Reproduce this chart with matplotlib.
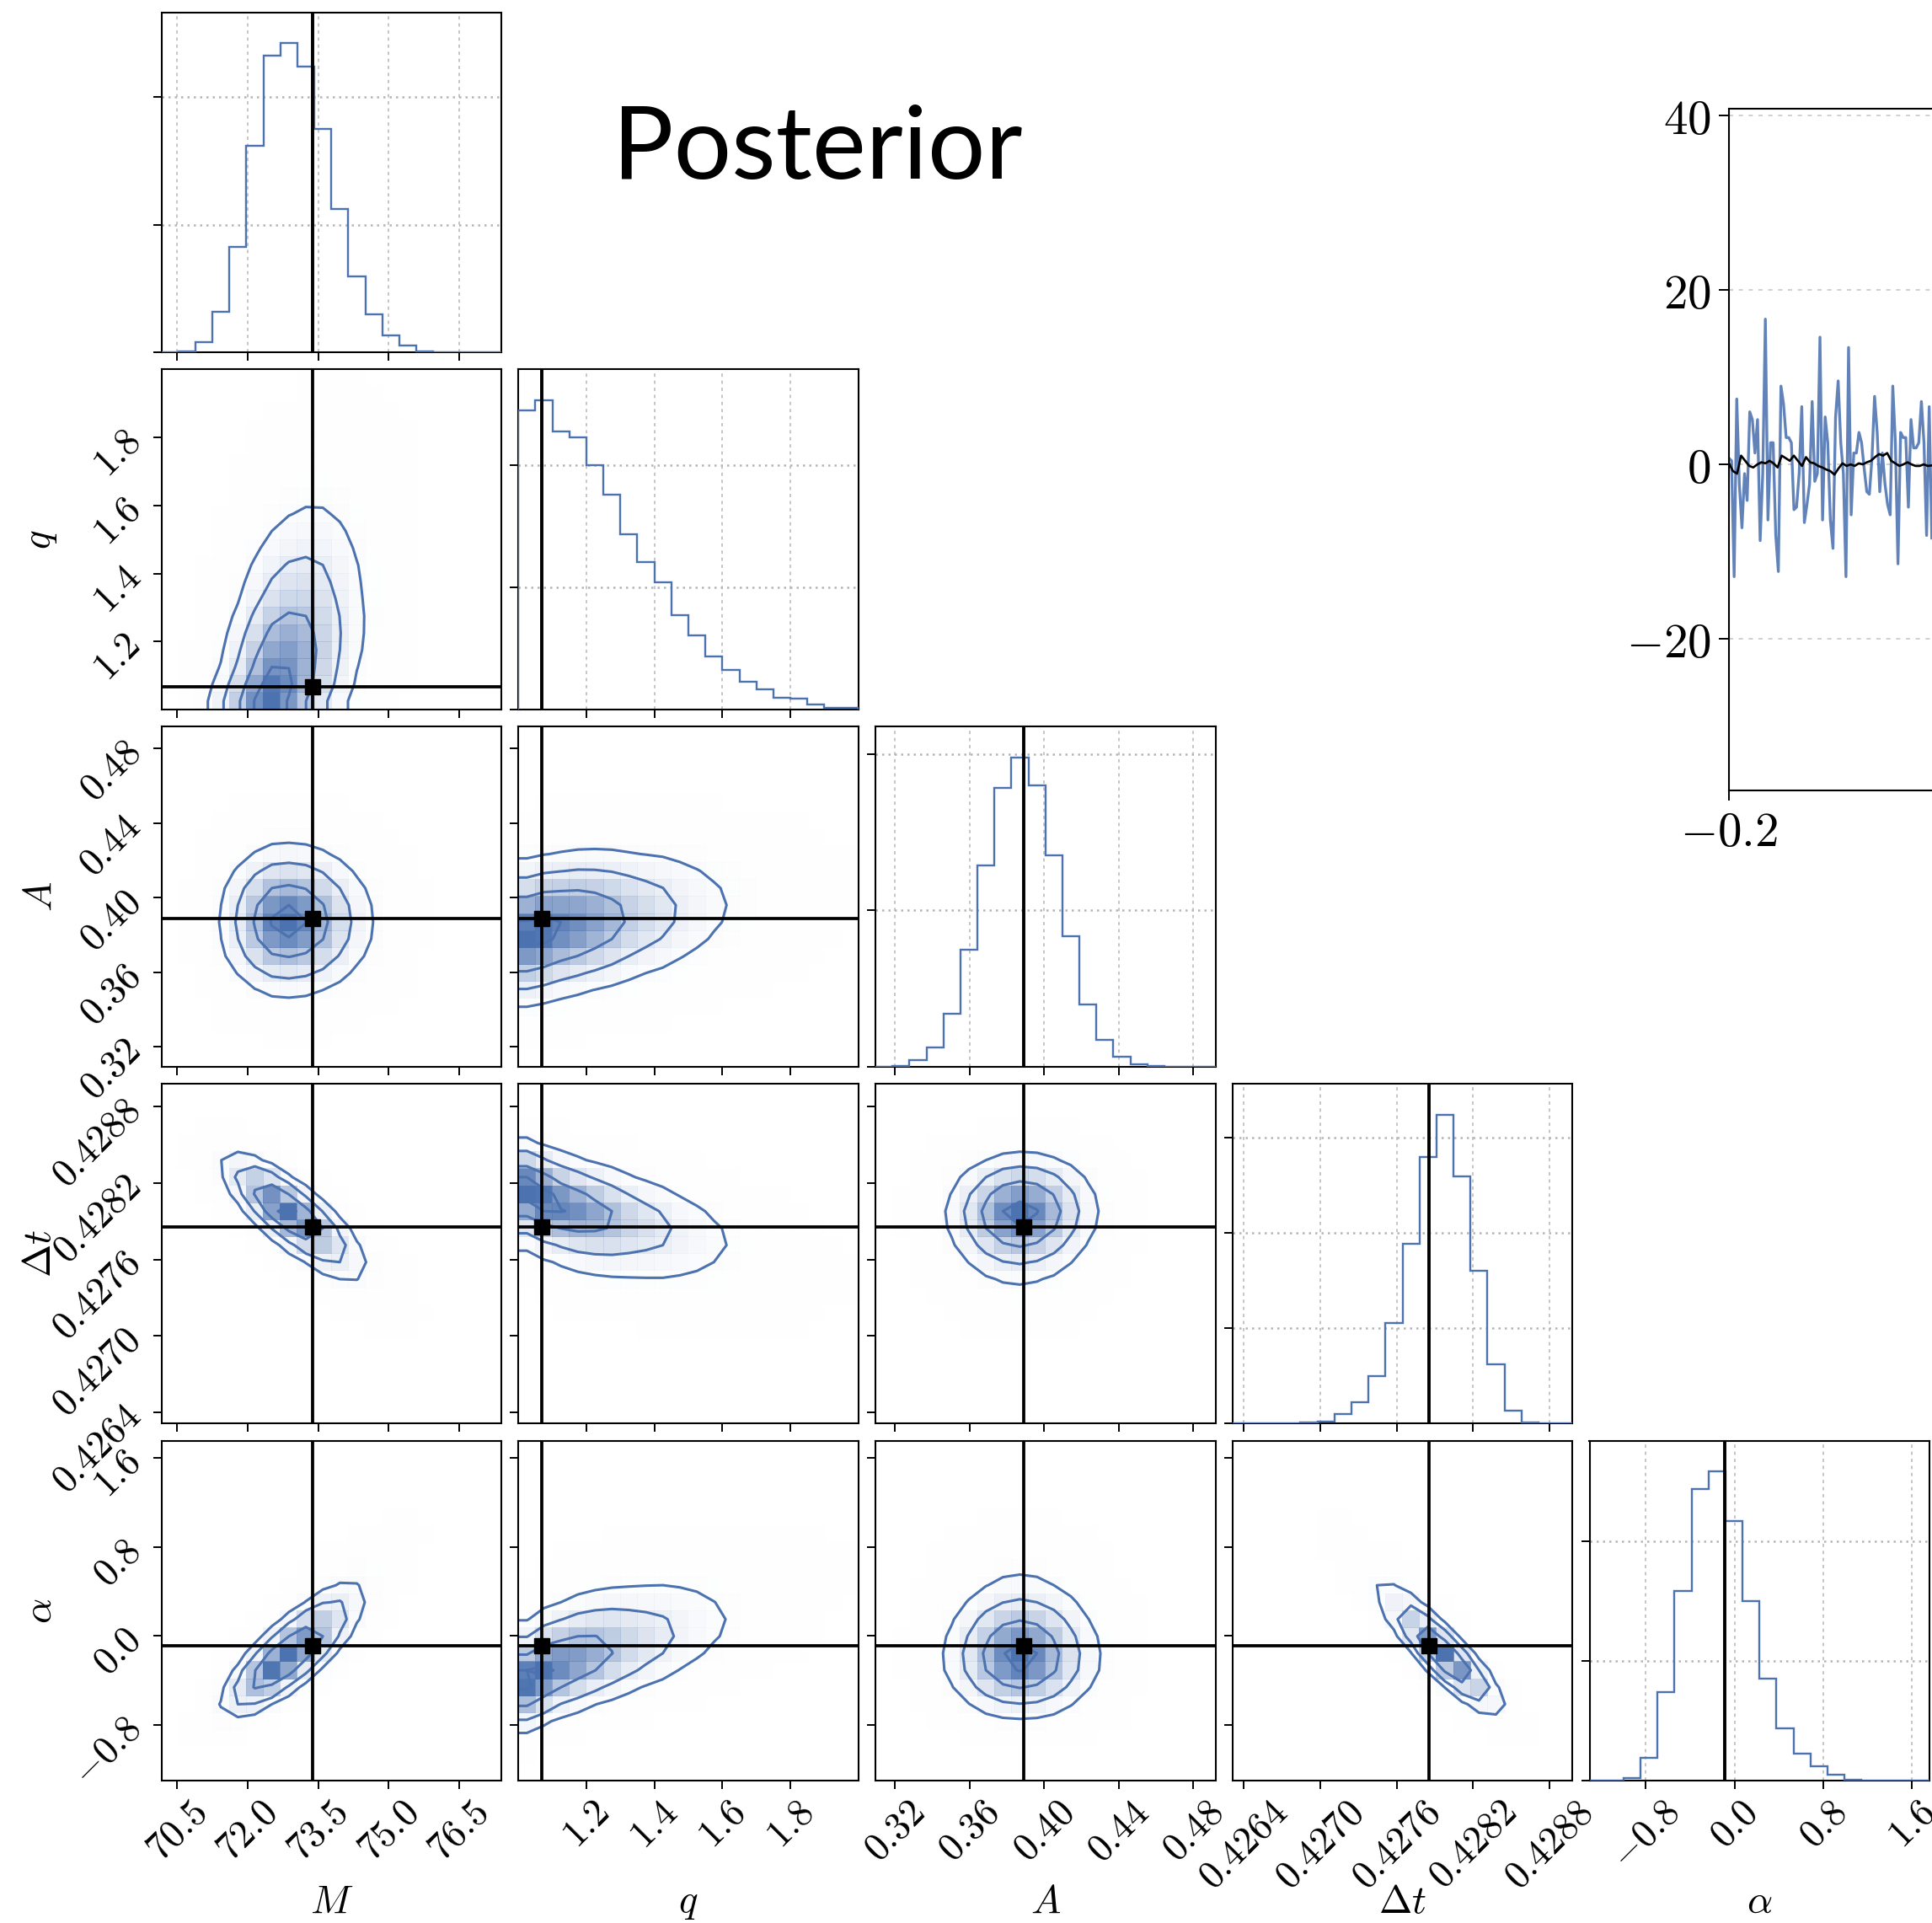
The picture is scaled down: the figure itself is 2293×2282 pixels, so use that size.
import numpy as np
import matplotlib
matplotlib.use("Agg")
import matplotlib.pyplot as plt
from matplotlib.colors import LinearSegmentedColormap
from statistics import NormalDist

plt.rcParams["mathtext.fontset"] = "cm"
plt.rcParams["font.family"] = ["DejaVu Serif"]

# ---------------- data ----------------
param_labels = [r"$M$", r"$q$", r"$A$", r"$\Delta t$", r"$\alpha$"]
param_ranges = [(70.16, 77.40), (1.0, 2.0), (0.3094, 0.4918), (0.42631, 0.42898), (-1.306, 1.756)]
truth_values = [73.38, 1.068, 0.3888, 0.427853, -0.09]

# 20-bin marginal histograms (counts)
hist_M = [5, 33, 388, 1585, 4135, 8093, 11641, 12118, 11197, 8769, 5610, 2993, 1508, 665, 255, 33, 5, 3, 2, 1]
hist_q = [12233, 12651, 11395, 11128, 10000, 8802, 7174, 6047, 5198, 3872, 3023, 2174, 1628, 1128, 837, 488, 430, 198, 81, 81]
hist_A = [3, 27, 209, 617, 1704, 3744, 6437, 8930, 9891, 9003, 6754, 4170, 1995, 843, 317, 73, 27, 5, 3, 2]
hist_dt = [2, 3, 5, 10, 45, 104, 519, 1113, 2493, 5267, 9451, 13976, 16217, 12953, 8012, 3116, 668, 45, 5, 2]
hist_alpha = [2, 5, 106, 970, 3692, 7917, 12213, 12923, 10852, 7503, 4260, 2189, 1148, 615, 260, 59, 10, 5, 3, 2]

# pairwise dependence (lower triangle, correlation of normal scores)
corr_rows = [
    [1.0],
    [0.35, 1.0],
    [0.0, 0.25, 1.0],
    [-0.88, -0.55, 0.03, 1.0],
    [0.88, 0.60, 0.0, -0.97, 1.0],
]

ticks_M = [70.5, 72.0, 73.5, 75.0, 76.5]
ticks_q = [1.2, 1.4, 1.6, 1.8]
ticks_A = [0.32, 0.36, 0.40, 0.44, 0.48]
ticks_dt = [0.4264, 0.4270, 0.4276, 0.4282, 0.4288]
ticks_alpha = [-0.8, 0.0, 0.8, 1.6]
tick_formats = ["%.1f", "%.1f", "%.2f", "%.4f", "%.1f"]

# strain time series (right inset)
strain_noisy = [0.71, 0.41, -12.86, 7.49, -2.24, -7.26, -1.06, -4.13, 6.02, 5.13, 1.30, 5.13, -8.73,
                -1.06, 16.64, -6.37, 2.48, 2.48, -8.14, -12.27, 8.97, 6.90, 3.07, 3.07, 2.48, -5.19,
                -4.90, -1.06, 6.61, -6.67, -4.60, -2.24, 7.20, -1.95, -1.06, 14.57, -6.37, 5.43, 2.48,
                -6.37, -9.62, 5.43, 9.56, 2.48, -1.06, -12.86, 13.39, -5.78, 1.30, 1.30, 3.66, 2.48,
                -0.47, -3.13, -3.42, 0.71, 7.79, 3.66, -3.13, 1.30, -2.24, -4.60, -5.78, 8.97, 2.48,
                -11.39, 3.66, 3.07, 3.07, -4.90, 5.13, 1.89, 1.89, 2.48, 7.20, 2.48, -8.14, 6.61, -8.44]
strain_model = [0.12, -0.77, -1.06, 1.0, 0.41, -0.18, -0.35, 0.0, 0.24, 0.12, 0.41, 0.12, -0.35, 1.0,
                0.71, 0.41, 1.0, 0.41, -0.18, 0.83, 0.24, 0.12, -0.18, -0.35, -0.59, -0.77, -1.18,
                -0.47, 0.12, -0.18, 0.0, -0.18, 0.12, 0.0, 0.24, 0.41, 0.83, 1.18, 1.0, 1.3, 0.41,
                0.12, -0.18, 0.0, 0.24, 0.0, -0.18, -0.18, 0.0, -0.18, -0.12]
time_start, time_end = -0.2, -0.0930
wave_yticks = [-20, 0, 20, 40]
wave_xticks = [-0.2]

# ---------------- helpers ----------------
nd = NormalDist()


def normal_scores(h):
    h = np.asarray(h, float)
    p = h / h.sum()
    u = np.clip(np.cumsum(p) - p / 2, 1e-5, 1 - 1e-5)
    return np.array([nd.inv_cdf(float(x)) for x in u]), p


def joint_hist(hx, hy, rho):
    zx, px = normal_scores(hx)
    zy, py = normal_scores(hy)
    a = zx[:, None]
    b = zy[None, :]
    c = np.exp(-(rho ** 2 * (a ** 2 + b ** 2) - 2 * rho * a * b) / (2 * (1 - rho ** 2))) / np.sqrt(1 - rho ** 2)
    return px[:, None] * py[None, :] * c


def gsmooth(Hm, s):
    r = int(4 * s + 0.5)
    k = np.exp(-0.5 * (np.arange(-r, r + 1) / s) ** 2)
    k /= k.sum()

    def conv(A, axis):
        A = np.moveaxis(A, axis, 0)
        P = np.concatenate([A[:r][::-1], A, A[-r:][::-1]], axis=0)
        out = sum(k[i] * P[i:i + A.shape[0]] for i in range(2 * r + 1))
        return np.moveaxis(out, 0, axis)

    return conv(conv(Hm, 0), 1)


# ---------------- figure ----------------
W, H = 2293, 2282
fig = plt.figure(figsize=(W / 100, H / 100), dpi=100)
color = "#4c72b0"
density_cmap = LinearSegmentedColormap.from_list("density", [color, (1, 1, 1, 0)])
levels = 1.0 - np.exp(-0.5 * np.arange(0.5, 2.1, 0.5) ** 2)

hists = [hist_M, hist_q, hist_A, hist_dt, hist_alpha]
ticks = [ticks_M, ticks_q, ticks_A, ticks_dt, ticks_alpha]
n = 5
left0, step, size, top0 = 191.5, 423.75, 403.5, 14.7
tick_fs = 33
label_fs = 34
smooth = 0.6


def fmt_labels(vals, f):
    return ["$%s$" % (f % v) for v in vals]


for i in range(n):
    for j in range(i + 1):
        l = (left0 + step * j) / W
        b = 1 - (top0 + step * i + size) / H
        ax = fig.add_axes([l, b, size / W, size / H])
        xr = param_ranges[j]
        if i == j:
            hv = np.asarray(hists[i], float)
            edges = np.linspace(xr[0], xr[1], len(hv) + 1)
            ax.stairs(hv, edges, color=color, lw=1.7, zorder=3)
            ax.set_ylim(0, 1.1 * hv.max())
            ax.axvline(truth_values[i], color="k", lw=2.8, zorder=4)
            ax.set_yticks(np.arange(0, 1.1 * hv.max(), 5000))
            ax.set_yticklabels([])
            ax.grid(True, axis="x", ls=(0, (2.5, 3)), color="#b5b5b5", lw=1.1)
            ax.grid(True, axis="y", ls=(0, (1, 2)), color="#b5b5b5", lw=1.8)
        else:
            yr = param_ranges[i]
            Hm = joint_hist(hists[j], hists[i], corr_rows[i][j])
            Hm = gsmooth(Hm, smooth)
            X = np.linspace(xr[0], xr[1], Hm.shape[0] + 1)
            Y = np.linspace(yr[0], yr[1], Hm.shape[1] + 1)
            Hflat = np.sort(Hm.flatten())[::-1]
            sm = np.cumsum(Hflat)
            sm /= sm[-1]
            V = np.empty(len(levels))
            for k, v0 in enumerate(levels):
                sel = Hflat[sm <= v0]
                V[k] = sel[-1] if len(sel) else Hflat[0]
            V.sort()
            ax.pcolor(X, Y, Hm.max() - Hm.T, cmap=density_cmap, shading="flat")
            X1 = 0.5 * (X[1:] + X[:-1])
            Y1 = 0.5 * (Y[1:] + Y[:-1])
            H2 = Hm.min() + np.zeros((Hm.shape[0] + 4, Hm.shape[1] + 4))
            H2[2:-2, 2:-2] = Hm
            H2[2:-2, 1] = Hm[:, 0]
            H2[2:-2, -2] = Hm[:, -1]
            H2[1, 2:-2] = Hm[0]
            H2[-2, 2:-2] = Hm[-1]
            H2[1, 1] = Hm[0, 0]
            H2[1, -2] = Hm[0, -1]
            H2[-2, 1] = Hm[-1, 0]
            H2[-2, -2] = Hm[-1, -1]
            dx = X1[1] - X1[0]
            dy = Y1[1] - Y1[0]
            X2 = np.concatenate([X1[0] + np.array([-2, -1]) * dx, X1, X1[-1] + np.array([1, 2]) * dx])
            Y2 = np.concatenate([Y1[0] + np.array([-2, -1]) * dy, Y1, Y1[-1] + np.array([1, 2]) * dy])
            ax.contour(X2, Y2, H2.T, V, colors=color, linewidths=2.2)
            ax.axvline(truth_values[j], color="k", lw=2.7)
            ax.axhline(truth_values[i], color="k", lw=2.7)
            ax.plot(truth_values[j], truth_values[i], "s", color="k", ms=12.5)
            ax.set_ylim(yr)
            ax.set_yticks(ticks[i])
            if j == 0:
                ax.set_yticklabels(fmt_labels(ticks[i], tick_formats[i]), rotation=45, fontsize=tick_fs)
                ax.set_ylabel(param_labels[i], fontsize=label_fs)
                ax.yaxis.set_label_coords(-0.3, 0.5)
            else:
                ax.set_yticklabels([])
        ax.set_xlim(xr)
        ax.set_xticks(ticks[j])
        if i == n - 1:
            ax.set_xticklabels(fmt_labels(ticks[j], tick_formats[j]), rotation=45, fontsize=tick_fs)
            ax.set_xlabel(param_labels[j], fontsize=label_fs)
            ax.xaxis.set_label_coords(0.5, -0.3)
        else:
            ax.set_xticklabels([])
        ax.tick_params(direction="out", length=7.5, width=1.4)
        for sp in ax.spines.values():
            sp.set_linewidth(1.5)

# ---------------- strain inset ----------------
axw = fig.add_axes([2052 / W, 1 - 938 / H, 900 / W, (938 - 128.7) / H])
t_noisy = np.linspace(time_start, time_end, len(strain_noisy))
t_model = np.linspace(time_start, time_end, len(strain_model))
axw.plot(t_noisy, strain_noisy, color=color, lw=2.4, alpha=0.88)
axw.plot(t_model, strain_model, color="k", lw=1.9)
axw.set_xlim(-0.2, 0.2)
axw.set_ylim(-37.35, 40.77)
axw.set_yticks(wave_yticks)
axw.set_yticklabels(["$%d$" % v for v in wave_yticks], fontsize=41)
axw.set_xticks(wave_xticks)
axw.set_xticklabels(["$%.1f$" % v for v in wave_xticks], fontsize=41)
axw.grid(True, ls=(0, (3, 4)), color="#c8c8c8", lw=1.2)
axw.tick_params(direction="out", length=8.5, width=1.4, pad=7)
for sp in axw.spines.values():
    sp.set_linewidth(1.5)

fig.text(727 / W, 1 - 212 / H, "Posterior", family="Lato", fontsize=87, ha="left", va="baseline")

fig.savefig("out.png", dpi=100)
